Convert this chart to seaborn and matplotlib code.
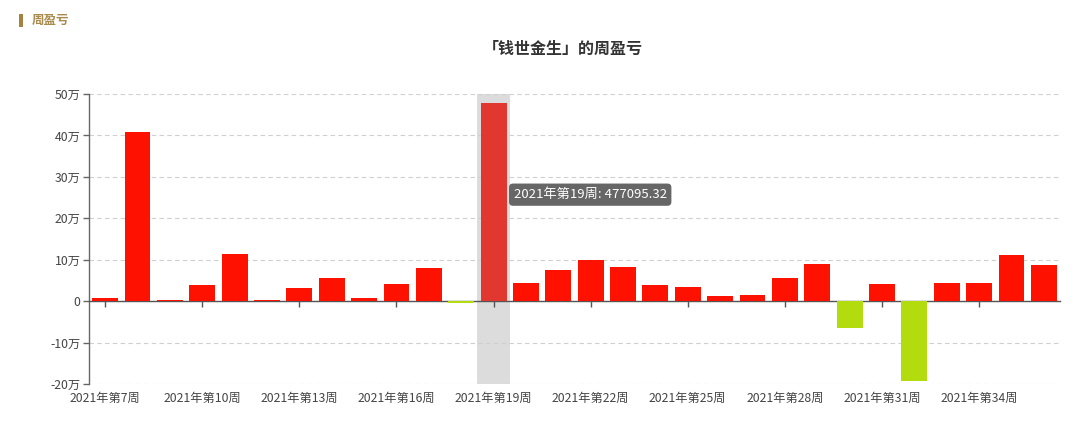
import matplotlib
matplotlib.use("Agg")
import matplotlib.pyplot as plt
import seaborn as sns
import numpy as np
from matplotlib.patches import FancyBboxPatch

sns.set_theme(style="white")
plt.rcParams['font.family'] = ['Noto Sans CJK SC', 'DejaVu Sans']
plt.rcParams['axes.unicode_minus'] = False

weeks = list(range(7, 37))
labels = [f"2021年第{w}周" for w in weeks]
values = [7000, 408000, 2000, 38000, 115000, 3000, 31000, 56500,
          8000, 42000, 80700, -3500, 477095.32, 45000, 75000, 98500,
          83000, 39500, 34700, 13000, 15300, 55700, 90400, -66000,
          41000, -193000, 44400, 43600, 112000, 88000]
y_ticks = [-200000, -100000, 0, 100000, 200000, 300000, 400000, 500000]
highlight_week = 19

pos_color = "#FF1100"
neg_color = "#B2DC0E"
hl_color = "#E0372E"

hi = weeks.index(highlight_week)
colors = []
for i, v in enumerate(values):
    if i == hi:
        colors.append(hl_color)
    elif v >= 0:
        colors.append(pos_color)
    else:
        colors.append(neg_color)

fig = plt.figure(figsize=(10.8, 4.21), dpi=100)
ax = fig.add_axes([89/1080, 37/421, (1060-89)/1080, (384-94)/421])

ax.axvspan(hi - 0.5, hi + 0.5, color="#DCDCDC", zorder=0, lw=0)

sns.barplot(x=labels, y=values, hue=labels, palette=colors, legend=False,
            width=0.8, saturation=1, ax=ax, zorder=3, linewidth=0,
            edgecolor="none")

ax.set_xlim(-0.5, len(weeks) - 0.5)
ax.set_ylim(y_ticks[0], y_ticks[-1])
ax.set_yticks(y_ticks)
ax.set_yticklabels(["0" if t == 0 else f"{int(t/10000)}万" for t in y_ticks],
                   fontsize=8.8, color="#444444")
for t in y_ticks:
    ax.axhline(t, color="#CFCFCF", lw=0.8, ls=(0, (4, 3)), zorder=1)

for s in ["top", "right"]:
    ax.spines[s].set_visible(False)
ax.spines["left"].set_color("#666666")
ax.spines["left"].set_linewidth(1)
ax.spines["bottom"].set_position(("data", 0))
ax.spines["bottom"].set_color("#555555")
ax.spines["bottom"].set_linewidth(1)
ax.spines["bottom"].set_zorder(2.5)

tick_idx = list(range(0, len(weeks), 3))
ax.set_xticks(tick_idx)
ax.set_xticklabels([])
ax.tick_params(axis="x", which="both", bottom=True, length=4, width=1,
               color="#555555", direction="out")
ax.tick_params(axis="y", left=True, length=4, width=1, color="#666666",
               direction="out", pad=2)
ax.set_xlabel("")
ax.set_ylabel("")

sec = ax.secondary_xaxis("bottom")
sec.set_xticks(tick_idx)
sec.set_xticklabels([labels[i] for i in tick_idx], fontsize=8.8, color="#444444")
sec.tick_params(length=0, pad=6)
sec.spines["bottom"].set_visible(False)

# tooltip
ax.annotate(f"2021年第{highlight_week}周: {values[hi]:.2f}",
            xy=(hi + 0.5, 0), xytext=(hi + 0.62, 257000),
            textcoords="data", xycoords="data",
            fontsize=9.5, color="white", va="center", ha="left",
            bbox=dict(boxstyle="round,pad=0.35,rounding_size=0.3",
                      fc="#666666", ec="none"), zorder=6)

fig.text(563/1080, 1 - 49/421, "「钱世金生」的周盈亏", ha="center", va="center",
         fontsize=11.5, fontweight="bold", color="#333333")
fig.patches.append(FancyBboxPatch((19/1080, 1 - 27/421), 4/1080, 13/421,
                                  boxstyle="square,pad=0", fc="#A4833F",
                                  ec="none", transform=fig.transFigure, figure=fig))
fig.text(32/1080, 1 - 20/421, "周盈亏", ha="left", va="center",
         fontsize=9, fontweight="bold", color="#A98B4E")

fig.savefig("out.png", dpi=100)
